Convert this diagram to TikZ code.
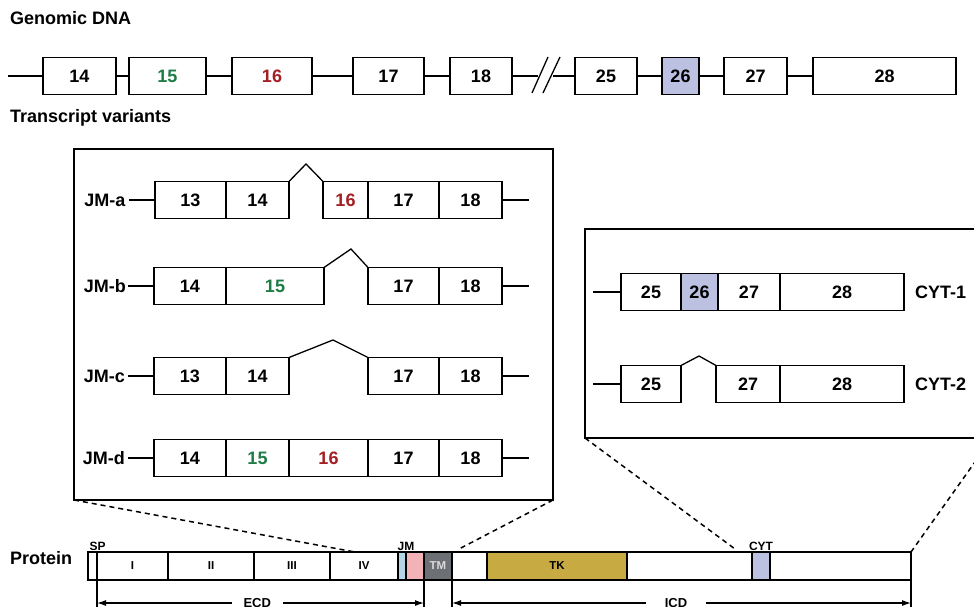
\documentclass[tikz,border=0pt]{standalone}
\usepackage{fontspec}
\setmainfont{Liberation Sans}
\usetikzlibrary{arrows.meta,positioning}
\definecolor{exgreen}{RGB}{30,125,70}
\definecolor{exred}{RGB}{165,30,35}
\definecolor{lav}{RGB}{188,193,225}
\definecolor{tkgold}{RGB}{200,170,66}
\definecolor{tmgray}{RGB}{108,112,116}
\definecolor{jmpink}{RGB}{242,178,184}
\definecolor{jmblue}{RGB}{178,214,230}

\begin{document}
\begin{tikzpicture}[x=1pt, y=-1pt,
  font=\fontsize{18}{20}\selectfont\bfseries,
  title/.style={anchor=west, inner sep=0pt},
  exon/.style={draw, line width=1.3pt, fill=white, inner sep=0pt, outer sep=0pt,
               minimum height=37pt},
  seg/.style={draw, line width=1.2pt, fill=white, inner sep=0pt, outer sep=0pt,
              minimum height=28pt, font=\fontsize{11.5}{13}\selectfont\bfseries},
  tag/.style={inner sep=1.5pt, font=\fontsize{12}{14}\selectfont\bfseries},
  intron/.style={line width=1.3pt},
  zoombox/.style={draw, line width=1.3pt, inner sep=0pt, outer sep=0pt, anchor=north west},
  zoomline/.style={dash pattern=on 5pt off 4pt, line width=1.5pt},
  dim/.style={{Latex[length=9pt,width=6pt]}-{Latex[length=9pt,width=6pt]},
              line width=1.2pt},
  lbl/.style={fill=white, inner ysep=1pt, font=\fontsize{13}{15}\selectfont\bfseries}
]
\useasboundingbox (0,0) rectangle (974,607);
\clip (0,0) rectangle (974,607);

% genomic DNA
\node[title] (tgen) at (10,18) {Genomic DNA};
\coordinate (gstart) at (8,76);
\node[exon, minimum width=73pt, anchor=west] (g14) at (43,76) {14};
\node[exon, minimum width=77pt, anchor=west, text=exgreen] (g15) at (129,76) {15};
\node[exon, minimum width=80pt, anchor=west, text=exred] (g16) at (232,76) {16};
\node[exon, minimum width=71pt, anchor=west] (g17) at (353,76) {17};
\node[exon, minimum width=62pt, anchor=west] (g18) at (450,76) {18};
\coordinate (brkA) at (538,76);
\coordinate (brkB) at (553,76);
\node[exon, minimum width=62pt, anchor=west] (g25) at (575,76) {25};
\node[exon, minimum width=37pt, anchor=west, fill=lav] (g26) at (662,76) {26};
\node[exon, minimum width=63pt, anchor=west] (g27) at (724,76) {27};
\node[exon, minimum width=143pt, anchor=west] (g28) at (813,76) {28};
\draw[intron] (gstart) -- (g14);
\draw[intron] (g14) -- (g15);
\draw[intron] (g15) -- (g16);
\draw[intron] (g16) -- (g17);
\draw[intron] (g17) -- (g18);
\draw[intron] (g18) -- (brkA);
\draw[intron] (brkB) -- (g25);
\draw[intron] (g25) -- (g26);
\draw[intron] (g26) -- (g27);
\draw[intron] (g27) -- (g28);
\draw[intron] (532,93) -- (548,57);
\draw[intron] (543,93) -- (560,57);

% transcript variants
\node[title] (ttrans) at (10,118) {Transcript variants};
\node[zoombox, minimum width=479pt, minimum height=351pt] (jmbox) at (74,149) {};

% JM-a
\node[anchor=east, inner sep=3.5pt] (la) at (129,200) {JM-a};
\node[exon, minimum width=71pt, anchor=west] (a13) at (155,200) {13};
\node[exon, minimum width=63pt, right=0pt of a13] (a14) {14};
\node[exon, minimum width=45pt, anchor=west, text=exred] (a16) at (323,200) {16};
\node[exon, minimum width=71pt, right=0pt of a16] (a17) {17};
\node[exon, minimum width=63pt, right=0pt of a17] (a18) {18};
\coordinate (aend) at (529,200);
\draw[intron] (la) -- (a13);
\draw[intron] (a18) -- (aend);
\draw[intron] (a14.north east) -- (306,164) -- (a16.north west);

% JM-b
\node[anchor=east, inner sep=2pt] (lb) at (128,286) {JM-b};
\node[exon, minimum width=72pt, anchor=west] (b14) at (154,286) {14};
\node[exon, minimum width=98pt, right=0pt of b14, text=exgreen] (b15) {15};
\node[exon, minimum width=71pt, anchor=west] (b17) at (368,286) {17};
\node[exon, minimum width=63pt, right=0pt of b17] (b18) {18};
\coordinate (bend) at (529,286);
\draw[intron] (lb) -- (b14);
\draw[intron] (b18) -- (bend);
\draw[intron] (b15.north east) -- (351,249) -- (b17.north west);

% JM-c
\node[anchor=east, inner sep=3pt] (lc) at (128,376) {JM-c};
\node[exon, minimum width=72pt, anchor=west] (c13) at (154,376) {13};
\node[exon, minimum width=63pt, right=0pt of c13] (c14) {14};
\node[exon, minimum width=71pt, anchor=west] (c17) at (368,376) {17};
\node[exon, minimum width=63pt, right=0pt of c17] (c18) {18};
\coordinate (cend) at (529,376);
\draw[intron] (lc) -- (c13);
\draw[intron] (c18) -- (cend);
\draw[intron] (c14.north east) -- (333,340) -- (c17.north west);

% JM-d
\node[anchor=east, inner sep=3pt] (ld) at (128,458) {JM-d};
\node[exon, minimum width=72pt, anchor=west] (d14) at (154,458) {14};
\node[exon, minimum width=63pt, right=0pt of d14, text=exgreen] (d15) {15};
\node[exon, minimum width=79pt, right=0pt of d15, text=exred] (d16) {16};
\node[exon, minimum width=71pt, right=0pt of d16] (d17) {17};
\node[exon, minimum width=63pt, right=0pt of d17] (d18) {18};
\coordinate (dend) at (529,458);
\draw[intron] (ld) -- (d14);
\draw[intron] (d18) -- (dend);

% CYT variants
\node[zoombox, minimum width=407pt, minimum height=209pt] (cytbox) at (585,229) {};
\coordinate (ystart) at (593,292);
\node[exon, minimum width=60pt, anchor=west] (y25) at (621,292) {25};
\node[exon, minimum width=37pt, right=0pt of y25, fill=lav] (y26) {26};
\node[exon, minimum width=62pt, right=0pt of y26] (y27) {27};
\node[exon, minimum width=124pt, right=0pt of y27] (y28) {28};
\node[title] (lc1) at (915,292) {CYT-1};
\draw[intron] (ystart) -- (y25);

\coordinate (zstart) at (593,384);
\node[exon, minimum width=60pt, anchor=west] (z25) at (621,384) {25};
\node[exon, minimum width=64pt, anchor=west] (z27) at (716,384) {27};
\node[exon, minimum width=124pt, right=0pt of z27] (z28) {28};
\node[title] (lc2) at (915,384) {CYT-2};
\draw[intron] (zstart) -- (z25);
\draw[intron] (z25.north east) -- (699,356) -- (z27.north west);

% protein
\node[title] (tprot) at (10,558) {Protein};
\node[seg, minimum width=9pt, anchor=west] (pSP) at (88,566) {};
\node[seg, minimum width=71pt, right=0pt of pSP] (pI) {I};
\node[seg, minimum width=86pt, right=0pt of pI] (pII) {II};
\node[seg, minimum width=76pt, right=0pt of pII] (pIII) {III};
\node[seg, minimum width=68pt, right=0pt of pIII] (pIV) {IV};
\node[seg, minimum width=8pt, right=0pt of pIV, fill=jmblue] (pJa) {};
\node[seg, minimum width=18pt, right=0pt of pJa, fill=jmpink] (pJb) {};
\node[seg, minimum width=28pt, right=0pt of pJb, fill=tmgray, text=black!15] (pTM) {TM};
\node[seg, minimum width=35pt, right=0pt of pTM] (pW1) {};
\node[seg, minimum width=140pt, right=0pt of pW1, fill=tkgold] (pTK) {TK};
\node[seg, minimum width=125pt, right=0pt of pTK] (pW2) {};
\node[seg, minimum width=18pt, right=0pt of pW2, fill=lav] (pCYT) {};
\node[seg, minimum width=141pt, right=0pt of pCYT] (pW3) {};
\node[tag, anchor=south west] (lsp) at (pSP.north west) {SP};
\node[tag, anchor=south] (ljm) at (pJb.north west) {JM};
\node[tag, anchor=south] (lcyt) at (pCYT.north) {CYT};

% zoom lines
\coordinate (jmL) at (355,552);
\coordinate (jmR) at (459,549);
\coordinate (cytL) at (735,549);
\draw[zoomline] (jmbox.south west) -- (jmL);
\draw[zoomline] (jmbox.south east) -- (jmR);
\draw[zoomline] (cytbox.south west) -- (cytL);
\draw[zoomline] (cytbox.south east) -- (pW3.north east);

% domains
\draw[intron] (pI.south west) -- ++(0,40);
\draw[intron] (pTM.south west) -- ++(0,40);
\draw[intron] (pTM.south east) -- ++(0,40);
\draw[intron] (pW3.south east) -- ++(0,40);
\coordinate (ecdA) at (97,603);
\coordinate (ecdB) at (424,603);
\coordinate (icdA) at (452,603);
\coordinate (icdB) at (911,603);
\draw[dim] (ecdA) -- node[lbl, inner xsep=12pt, pos=0.49] {ECD} (ecdB);
\draw[dim] (icdA) -- node[lbl, inner xsep=19pt, pos=0.488] {ICD} (icdB);
\end{tikzpicture}
\end{document}
